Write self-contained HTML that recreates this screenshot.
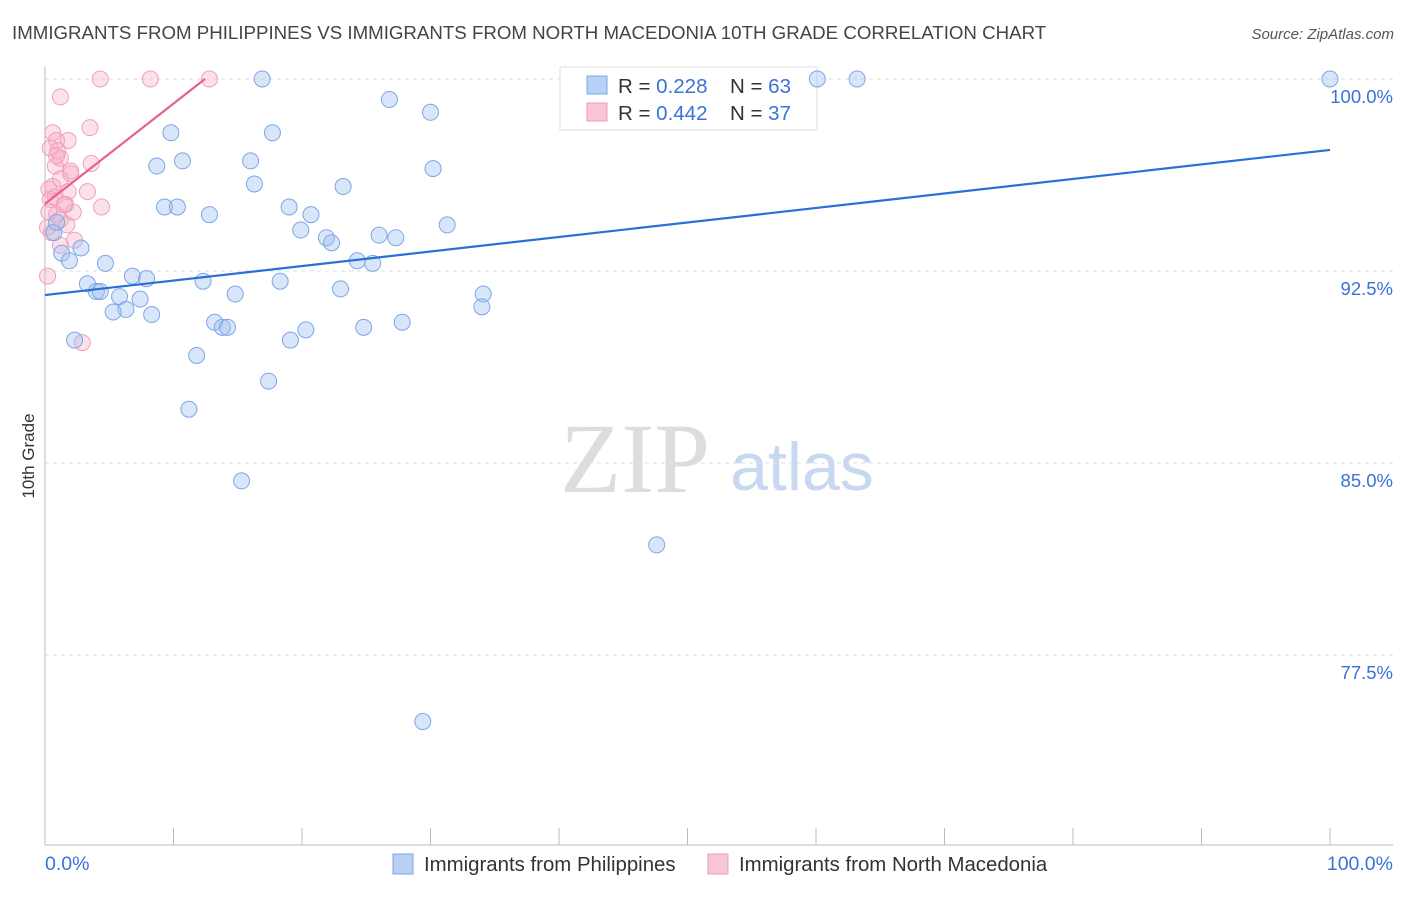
<!DOCTYPE html>
<html><head><meta charset="utf-8"><style>
body{margin:0;background:#fff;}
svg text{font-family:"Liberation Sans",sans-serif;}
svg text.serif{font-family:"Liberation Serif",serif;}
</style></head><body>
<svg id="chart" width="1406" height="892" xmlns="http://www.w3.org/2000/svg">
<text x="12" y="39" font-size="18.7" fill="#444">IMMIGRANTS FROM PHILIPPINES VS IMMIGRANTS FROM NORTH MACEDONIA 10TH GRADE CORRELATION CHART</text>
<text x="1394" y="39" font-size="15" fill="#555" font-style="italic" text-anchor="end">Source: ZipAtlas.com</text>
<text x="34" y="456" font-size="17" fill="#333" transform="rotate(-90 34 456)" text-anchor="middle">10th Grade</text>
<g><text class="serif" x="635" y="492" font-size="100" fill="#ddd" text-anchor="middle">ZIP</text><text x="802" y="490" font-size="68" fill="#c8d8f0" text-anchor="middle">atlas</text></g>
<g id="grid"></g><g id="axes"></g>
<g>
<rect x="560" y="67" width="257" height="63" fill="#fff" stroke="#ddd"/>
<rect x="587" y="76" width="20" height="18" fill="#b8d0f4" stroke="#7aa7e8"/>
<rect x="587" y="103" width="20" height="18" fill="#f9c6d6" stroke="#f09ab6"/>
<text x="618" y="93" font-size="20.5" fill="#333">R = <tspan fill="#3a72d8">0.228</tspan><tspan x="730">N = </tspan><tspan fill="#3a72d8">63</tspan></text>
<text x="618" y="120" font-size="20.5" fill="#333">R = <tspan fill="#3a72d8">0.442</tspan><tspan x="730">N = </tspan><tspan fill="#3a72d8">37</tspan></text>
</g>
<g id="marks"></g>
<g>
<rect x="393" y="854" width="20" height="20" fill="#b8d0f4" stroke="#7aa7e8"/>
<text x="424" y="871" font-size="20.4" fill="#333">Immigrants from Philippines</text>
<rect x="708" y="854" width="20" height="20" fill="#f9c6d6" stroke="#f09ab6"/>
<text x="739" y="871" font-size="20.4" fill="#333">Immigrants from North Macedonia</text>
</g>
</svg>
<script>
const yTicks=[100,92.5,85,77.5];
const yTickLabels=["100.0%","92.5%","85.0%","77.5%"];
const xTickLabels=["0.0%","100.0%"];
const blueX=[16.9,26.8,30.0,60.1,63.2,100,9.8,17.7,8.7,10.7,16.0,30.2,16.3,23.2,9.3,10.3,12.8,19.0,20.7,31.3,19.9,21.9,22.3,26.0,27.3,0.7,0.9,2.8,1.3,1.9,4.7,24.3,25.5,6.8,7.9,12.3,18.3,23.0,3.3,4.0,4.3,5.8,7.4,14.8,34.1,6.3,5.3,8.3,34.0,13.2,13.8,14.2,20.3,24.8,27.8,2.3,19.1,11.8,17.4,11.2,15.3,47.6,29.4];
const blueY=[100,99.2,98.7,100,100,100,97.9,97.9,96.6,96.8,96.8,96.5,95.9,95.8,95.0,95.0,94.7,95.0,94.7,94.3,94.1,93.8,93.6,93.9,93.8,94.0,94.4,93.4,93.2,92.9,92.8,92.9,92.8,92.3,92.2,92.1,92.1,91.8,92.0,91.7,91.7,91.5,91.4,91.6,91.6,91.0,90.9,90.8,91.1,90.5,90.3,90.3,90.2,90.3,90.5,89.8,89.8,89.2,88.2,87.1,84.3,81.8,74.9];
const pinkX=[4.3,8.2,12.8,1.2,3.5,0.6,0.9,1.8,0.4,1.0,3.6,0.8,2.0,1.2,0.3,1.8,3.3,0.8,0.4,1.6,4.4,0.9,0.3,2.2,1.2,1.7,0.2,0.5,2.3,1.2,0.2,2.9,1.5,1.2,2.0,0.9,0.6];
const pinkY=[100,100,100,99.3,98.1,97.9,97.6,97.6,97.3,97.2,96.7,96.6,96.3,96.1,95.7,95.6,95.6,95.4,95.3,95.1,95.0,94.7,94.8,94.8,94.5,94.3,94.2,94.0,93.7,93.5,92.3,89.7,95.1,96.9,96.4,97.0,95.8];
const blueTrend=[[0,91.56],[100,97.23]];
const pinkTrend=[[0,95.12],[12.45,100]];
const X=v=>45+v*12.85, Y=v=>79+(100-v)*25.6;
const NS="http://www.w3.org/2000/svg";
function mk(tag,attrs,parent){const e=document.createElementNS(NS,tag);for(const k in attrs)e.setAttribute(k,attrs[k]);document.getElementById(parent).appendChild(e);return e;}
yTicks.forEach((t,i)=>{
 const l=mk('line',{x1:45,x2:1393,y1:Y(t),y2:Y(t),stroke:'#ddd','stroke-dasharray':'4,4'},'grid');
 
 
 const tx=mk('text',{x:1393,y:Y(t)+24,'font-size':18.5,fill:'#3a72d8','text-anchor':'end'},'grid');
 tx.textContent=yTickLabels[i];
 
 
});
mk('line',{x1:45,x2:45,y1:67,y2:845,stroke:'#bbb'},'axes');
mk('line',{x1:45,x2:1393,y1:845,y2:845,stroke:'#bbb'},'axes');
for(let i=0;i<=10;i++){const tk=mk('line',{x1:X(i*10),x2:X(i*10),y1:828,y2:845,stroke:'#bbb'},'axes');
 
 }
let a=mk('text',{x:45,y:870,'font-size':19.5,fill:'#3a72d8'},'axes');a.textContent=xTickLabels[0];


a=mk('text',{x:1393,y:870,'font-size':19.5,fill:'#3a72d8','text-anchor':'end'},'axes');a.textContent=xTickLabels[1];


pinkX.forEach((x,i)=>{const c=mk('circle',{cx:X(x),cy:Y(pinkY[i]),r:8,fill:'rgba(246,170,195,0.35)',stroke:'#f0a0bb','stroke-width':1},'marks');
 
 });
blueX.forEach((x,i)=>{const c=mk('circle',{cx:X(x),cy:Y(blueY[i]),r:8,fill:'rgba(160,192,240,0.4)',stroke:'#7aa7e8','stroke-width':1},'marks');
 
 });
let tl=mk('line',{x1:X(blueTrend[0][0]),y1:Y(blueTrend[0][1]),x2:X(blueTrend[1][0]),y2:Y(blueTrend[1][1]),stroke:'#2a6fd6','stroke-width':2.2},'marks');


tl=mk('line',{x1:X(pinkTrend[0][0]),y1:Y(pinkTrend[0][1]),x2:X(pinkTrend[1][0]),y2:Y(pinkTrend[1][1]),stroke:'#e8608a','stroke-width':2.2},'marks');


</script>
</body></html>
